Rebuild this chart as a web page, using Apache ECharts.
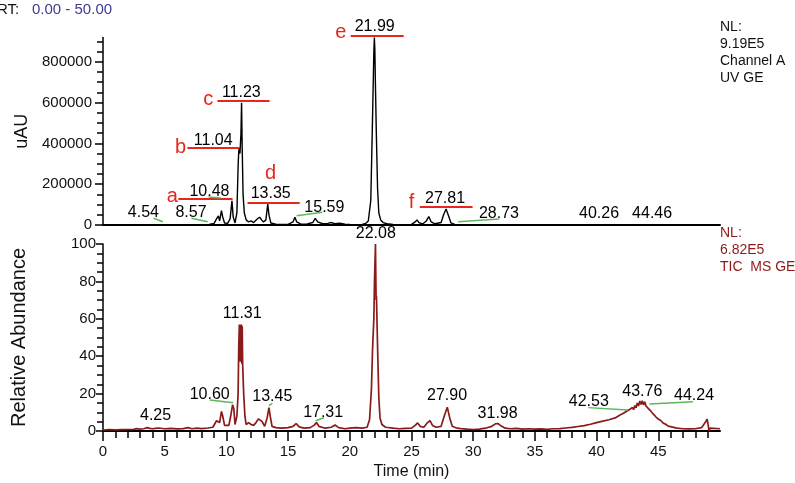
<!DOCTYPE html>
<html>
<head>
<meta charset="utf-8">
<script src="https://cdn.jsdelivr.net/npm/echarts@6/dist/echarts.min.js"></script>
<style>
html,body{margin:0;padding:0;background:#fff;}
#chart{width:795px;height:483px;}
</style>
</head>
<body>
<div id="chart"></div>
<script>
// ---------- data ----------
var timeTicks = [0, 5, 10, 15, 20, 25, 30, 35, 40, 45];
var uvTicks = [0, 200000, 400000, 600000, 800000];
var uvMinorTicks = [0,50000,100000,150000,200000,250000,300000,350000,400000,450000,500000,550000,600000,650000,700000,750000,800000,850000,900000];
var msTicks = [0, 20, 40, 60, 80, 100];

// UV trace (time min, uAU)
var uvTrace = [
 [0,0],[2,300],[4.0,500],[4.5,1500],[5,500],[8.0,1000],[8.6,3000],[9.0,8000],[9.2,30000],[9.35,45000],[9.45,20000],
 [9.6,70000],[9.7,40000],[9.85,10000],[10.1,8000],[10.3,30000],[10.45,118000],[10.55,40000],[10.7,10000],
 [10.85,60000],[10.95,290000],[11.0,360000],[11.05,378000],[11.1,350000],[11.18,450000],[11.23,599000],
 [11.28,380000],[11.35,150000],[11.45,60000],[11.6,25000],[11.8,15000],[12.0,20000],[12.2,12000],[12.5,30000],
 [12.7,38000],[12.85,25000],[13.0,15000],[13.2,25000],[13.35,103000],[13.45,50000],[13.6,10000],[14.0,4000],
 [14.5,3000],[15.0,3000],[15.4,15000],[15.55,38000],[15.7,15000],[16.0,5000],[16.5,4000],[17.0,12000],
 [17.2,33000],[17.4,15000],[17.8,6000],[18.2,8000],[18.5,12000],[18.8,6000],[19.2,9000],[19.6,4000],[20.0,3000],
 [20.5,2000],[21.0,3000],[21.3,8000],[21.5,20000],[21.7,120000],[21.8,400000],[21.9,700000],[21.95,850000],
 [21.99,919000],[22.03,860000],[22.07,711000],[22.15,450000],[22.25,180000],[22.35,60000],[22.5,25000],
 [22.7,12000],[23.0,6000],[23.5,3000],[24.0,2000],[25.0,3000],[25.3,15000],[25.45,25000],[25.6,12000],
 [25.9,5000],[26.2,20000],[26.4,41000],[26.6,15000],[26.9,6000],[27.4,12000],[27.6,50000],[27.8,78000],
 [28.0,45000],[28.2,10000],[28.5,3000],[29.5,1500],[31,1000],[35,500],[40,500],[45,500],[50,500]
];

// TIC trace (time min, relative abundance %)
var msTrace = [
 [0,0.5],[0.5,0.8],[0.9,0.6],[1.0,1.5],[1.1,0.6],[1.5,0.7],[2.0,0.8],[2.5,0.9],[2.7,1.3],[3.0,1.0],[3.3,1.2],
 [3.6,1.8],[3.8,1.4],[4.0,1.2],[4.15,2.2],[4.25,1.4],[4.5,1.6],[5.0,1.2],[5.5,1.4],[6.0,1.1],[6.5,1.3],[6.9,1.8],
 [7.2,1.2],[7.6,1.5],[8.0,1.3],[8.5,1.6],[8.9,2.0],[9.2,5.5],[9.35,6.5],[9.45,4.5],[9.6,10.5],[9.7,8.0],[9.85,3.0],
 [10.0,2.5],[10.2,3.0],[10.35,8.0],[10.5,14.0],[10.6,12.0],[10.7,3.5],[10.85,8.0],[10.95,20.0],[11.0,45.0],
 [11.05,57.0],[11.08,38.0],[11.1,56.0],[11.13,37.0],[11.16,57.0],[11.19,39.0],[11.22,57.0],[11.25,36.0],
 [11.28,56.0],[11.32,35.0],[11.4,20.0],[11.5,8.0],[11.6,3.5],[11.8,4.5],[12.0,3.5],[12.2,3.0],[12.4,4.5],
 [12.6,6.5],[12.75,7.5],[12.9,5.0],[13.1,2.5],[13.3,7.0],[13.45,12.5],[13.55,8.0],[13.7,2.5],[14.0,1.8],
 [14.5,1.5],[15.0,1.8],[15.4,2.5],[15.65,4.0],[15.9,2.2],[16.3,1.5],[16.8,1.8],[17.1,3.0],[17.3,4.5],[17.5,2.5],
 [18.0,1.5],[18.5,2.0],[18.8,3.2],[19.1,1.8],[19.6,1.2],[20.0,1.5],[20.5,1.8],[21.0,1.5],[21.4,2.0],[21.6,6.0],
 [21.75,22.0],[21.85,45.0],[21.95,60.0],[22.0,80.0],[22.08,100.0],[22.13,70.0],[22.16,72.0],[22.2,72.0],
 [22.25,45.0],[22.35,18.0],[22.45,7.0],[22.6,3.5],[22.9,2.0],[23.5,1.5],[24.0,1.2],[24.5,1.4],[25.0,1.5],
 [25.3,3.0],[25.5,4.3],[25.7,2.5],[26.0,2.0],[26.3,4.5],[26.5,5.5],[26.7,3.0],[27.0,2.0],[27.4,2.5],[27.7,9.0],
 [27.9,12.7],[28.1,7.0],[28.3,2.5],[28.7,1.5],[29.0,1.3],[29.5,1.0],[30.0,0.8],[30.5,1.0],[31.0,1.5],[31.5,2.5],
 [31.8,3.8],[32.0,4.0],[32.2,3.0],[32.6,1.5],[33.0,1.2],[33.5,1.4],[34.0,1.0],[34.5,1.2],[35.0,1.0],[35.5,1.1],
 [36.0,0.9],[36.5,1.2],[37.0,1.3],[37.5,1.6],[38.0,1.9],[38.5,2.4],[39.0,2.9],[39.5,3.6],[40.0,4.5],[40.5,5.3],
 [41.0,6.0],[41.5,7.0],[41.6,6.2],[41.7,7.8],[41.8,7.0],[41.9,8.6],[42.0,7.8],[42.1,9.2],[42.2,8.4],[42.3,10.0],
 [42.4,9.0],[42.5,10.8],[42.6,9.8],[42.7,11.6],[42.8,10.6],[42.9,12.6],[43.0,11.4],[43.1,13.6],[43.2,12.4],
 [43.3,15.0],[43.4,13.4],[43.5,16.0],[43.6,14.2],[43.7,16.2],[43.8,14.0],[43.9,15.6],[44.0,13.4],[44.1,14.4],
 [44.2,12.0],[44.3,12.8],[44.4,10.6],[44.5,11.0],[44.6,9.0],[44.7,9.4],[44.8,7.6],[44.9,7.8],[45.0,6.4],
 [45.2,5.6],[45.4,4.2],[45.6,3.6],[45.8,2.6],[46.0,2.3],[46.5,1.5],[47.0,1.2],[47.5,1.1],[48.0,1.2],[48.5,1.8],
 [48.8,4.5],[48.95,6.4],[49.05,3.0],[49.1,0.0],[49.2,1.5],[50,1.2]
];

// peak annotations: [time, value, text]
var uvPeakLabels = [
 [3.27,61300,'4.54'],[7.13,61300,'8.57'],[8.63,161700,'10.48'],[8.93,411700,'11.04'],
 [11.21,646900,'11.23'],[13.59,151900,'13.35'],[17.94,85800,'15.59'],[22.02,970400,'21.99'],
 [27.72,128900,'27.81'],[32.09,53900,'28.73'],[40.2,53900,'40.26'],[44.5,53900,'44.46']
];
var uvLetters = [
 [5.62,140000,'a'],[6.28,382000,'b'],[8.53,617500,'c'],[13.58,254900,'d'],[19.27,942500,'e'],[25.0,110300,'f']
];
var uvRedLines = [
 [[6.11,127400],[10.5,127400]],[[6.84,377400],[11.05,377400]],[[9.28,609200],[13.5,609200]],
 [[11.71,111250],[15.94,111250]],[[20.07,927800],[24.37,927800]],[[25.67,89700],[29.95,89700]]
];
var uvGreenLines = [
 [[4.1,32800],[4.85,16200]],[[7.17,32800],[8.49,16200]],[[8.55,137000],[9.55,132000]],
 [[15.69,45600],[17.78,62200]],[[28.78,16200],[32.11,29400]]
];
var msPeakLabels = [
 [22.11,105.3,'22.08'],[11.28,62.7,'11.31'],[8.65,19.3,'10.60'],[13.72,18.2,'13.45'],[17.84,9.6,'17.31'],
 [4.26,8.3,'4.25'],[27.88,18.8,'27.90'],[31.98,9.5,'31.98'],[39.37,15.7,'42.53'],[43.7,21.1,'43.76'],[47.9,18.8,'44.24']
];
var msGreenLines = [
 [[8.65,16.6],[10.55,15.1]],[[13.44,13.5],[13.72,14.8]],[[17.23,5.5],[17.9,7.1]],
 [[39.33,12.5],[42.53,11.2]],[[44.28,14.4],[47.81,15.7]]
];

// ---------- chart ----------
var FONT = 'Liberation Sans, Arial, sans-serif';
var DARKRED = '#8b1a1a';
var RED = '#e8261c';
var GREEN = '#5cb85c';

function labelSeries(arr, xi, yi, color, size) {
  return {
    type: 'scatter', xAxisIndex: xi, yAxisIndex: yi, symbolSize: 0, clip: false, silent: true, z: 10,
    itemStyle: { opacity: 1 },
    data: arr.map(function (d) { return { value: [d[0], d[1]], name: d[2] }; }),
    label: { show: true, position: 'inside', formatter: '{b}', color: color, opacity: 1, fontSize: size, fontFamily: FONT }
  };
}
function lineSeries(arr, xi, yi, color, width) {
  return {
    type: 'lines', coordinateSystem: 'cartesian2d', xAxisIndex: xi, yAxisIndex: yi, clip: false, silent: true, z: 9,
    data: arr.map(function (d) { return { coords: d }; }),
    lineStyle: { color: color, width: width, opacity: 1 }, symbol: 'none'
  };
}
function plain(v) { return String(v); }

var chart = echarts.init(document.getElementById('chart'), null, { renderer: 'canvas' });
var axisText = { color: '#111', fontSize: 15, fontFamily: FONT };
chart.setOption({
  animation: false,
  backgroundColor: '#fff',
  grid: [
    { left: 103, top: 37.5, width: 617, height: 187.5 },
    { left: 103, top: 244, width: 617, height: 187 }
  ],
  xAxis: [
    { gridIndex: 0, type: 'value', min: 0, max: 50, interval: 5,
      axisLine: { show: true, lineStyle: { color: '#000', width: 2 } },
      axisTick: { show: false }, axisLabel: { show: false }, splitLine: { show: false } },
    { gridIndex: 1, type: 'value', min: 0, max: 50, interval: 5,
      name: 'Time (min)', nameLocation: 'middle', nameGap: 33,
      nameTextStyle: { color: '#111', fontSize: 16, fontFamily: FONT },
      axisLine: { show: true, lineStyle: { color: '#000', width: 2 } },
      axisTick: { show: true, length: 10, customValues: timeTicks, lineStyle: { color: '#000', width: 1.5 } },
      minorTick: { show: true, splitNumber: 5, length: 7, lineStyle: { color: '#000', width: 1.5 } },
      axisLabel: Object.assign({ margin: 13, customValues: timeTicks }, axisText),
      splitLine: { show: false } }
  ],
  yAxis: [
    { gridIndex: 0, type: 'value', min: 0, max: 919000, position: 'left',
      name: 'uAU', nameLocation: 'middle', nameGap: 70,
      nameTextStyle: { color: '#111', fontSize: 18, fontFamily: FONT },
      axisLine: { show: true, lineStyle: { color: '#000', width: 1.5 } },
      axisTick: { show: true, length: 8, customValues: uvTicks, lineStyle: { color: '#000', width: 1.5 } },
      axisLabel: Object.assign({ margin: 11, customValues: uvTicks, formatter: plain }, axisText),
      splitLine: { show: false } },
    { gridIndex: 0, type: 'value', min: 0, max: 919000, position: 'left', offset: 0,
      axisLine: { show: false },
      axisTick: { show: true, length: 6, customValues: uvMinorTicks, lineStyle: { color: '#000', width: 1.5 } },
      axisLabel: { show: false }, splitLine: { show: false } },
    { gridIndex: 1, type: 'value', min: 0, max: 100, interval: 20,
      name: 'Relative Abundance', nameLocation: 'middle', nameGap: 74,
      nameTextStyle: { color: '#111', fontSize: 20, fontFamily: FONT },
      axisLine: { show: true, lineStyle: { color: '#000', width: 1.5 } },
      axisTick: { show: true, length: 7, lineStyle: { color: '#000', width: 1.5 } },
      minorTick: { show: true, splitNumber: 4, length: 6, lineStyle: { color: '#000', width: 1.5 } },
      axisLabel: Object.assign({ margin: 7, customValues: msTicks }, axisText),
      splitLine: { show: false } }
  ],
  series: [
    { type: 'line', xAxisIndex: 0, yAxisIndex: 0, data: uvTrace, showSymbol: false, clip: false,
      lineStyle: { color: '#000', width: 1.4 }, z: 5 },
    { type: 'line', xAxisIndex: 1, yAxisIndex: 2, data: msTrace, showSymbol: false, clip: false,
      lineStyle: { color: DARKRED, width: 1.7 }, z: 5 },
    lineSeries(uvRedLines, 0, 0, RED, 2),
    lineSeries(uvGreenLines, 0, 0, GREEN, 1.5),
    lineSeries(msGreenLines, 1, 2, GREEN, 1.5),
    labelSeries(uvPeakLabels, 0, 0, '#000', 16),
    labelSeries(uvLetters, 0, 0, RED, 20),
    labelSeries(msPeakLabels, 1, 2, '#000', 16)
  ],
  graphic: [
    { type: 'text', left: -3, top: 2, style: { text: 'RT:', fill: '#111', font: '15px ' + FONT } },
    { type: 'text', left: 32, top: 2, style: { text: '0.00 - 50.00', fill: '#3b3b92', font: '15px ' + FONT } },
    { type: 'text', left: 720, top: 19, style: { text: 'NL:\n9.19E5\nChannel A\nUV GE', fill: '#111', font: '14px ' + FONT, lineHeight: 17 } },
    { type: 'text', left: 720, top: 225, style: { text: 'NL:\n6.82E5\nTIC  MS GE', fill: DARKRED, font: '14px ' + FONT, lineHeight: 17 } }
  ]
});
</script>
</body>
</html>
